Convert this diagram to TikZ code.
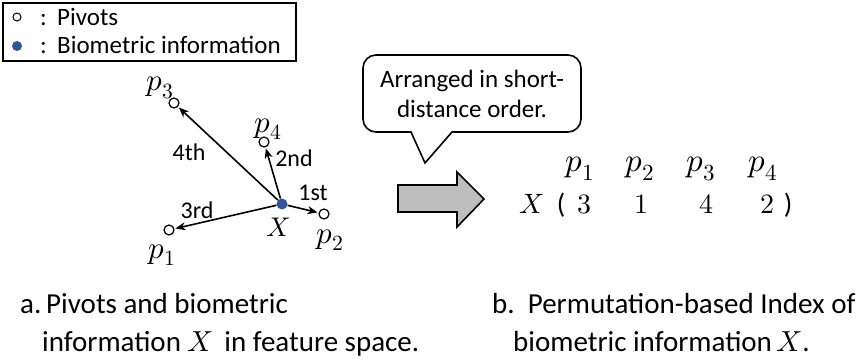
\documentclass[tikz,border=0pt]{standalone}
\usepackage{fontspec}
\usepackage{unicode-math}
\setmainfont{Carlito}
\setmathfont{Latin Modern Math}
\usetikzlibrary{arrows.meta}
\definecolor{dotblue}{RGB}{47,85,151}
\definecolor{arrowgray}{RGB}{190,190,190}
\tikzset{
  pivot/.style={circle,draw,line width=1.2pt,fill=white,minimum size=10pt,inner sep=0pt},
  bio/.style={circle,fill=dotblue,minimum size=11pt,inner sep=0pt},
  lbl/.style={font=\fontsize{24}{28}\selectfont,inner sep=0pt},
  mlbl/.style={font=\fontsize{27}{30}\selectfont,inner sep=0pt},
  plbl/.style={font=\fontsize{31}{34}\selectfont,inner sep=0pt},
  big/.style={font=\fontsize{28}{32}\selectfont,inner sep=0pt,anchor=base},
  phead/.style={font=\fontsize{33}{36}\selectfont,inner sep=0pt,anchor=base},
  txt/.style={font=\fontsize{25}{30}\selectfont,inner sep=0pt},
  captxt/.style={font=\fontsize{29}{34}\selectfont,inner sep=0pt,anchor=base west},
  vec/.style={line width=1.6pt,-{Stealth[length=10pt,width=8pt,inset=3pt]},shorten >=1pt},
}
\begin{document}
\begin{tikzpicture}[x=1pt,y=-1pt]
\useasboundingbox (0,0) rectangle (864,363);
% legend
\node[draw,line width=1.8pt,minimum width=293pt,minimum height=58pt,anchor=north west,inner sep=0pt] (legend) at (2,2) {};
\node[pivot,minimum size=8pt,line width=1pt] (lp) at (17,17) {};
\node[bio,minimum size=10pt] (lb) at (17,46) {};
\node[txt,anchor=base west] (lc1) at (40,26) {:};
\node[txt,anchor=base west] (lc2) at (40,54) {:};
\node[txt,anchor=base west] (lt1) at (57,26) {Pivots};
\node[txt,anchor=base west] (lt2) at (57,54) {Biometric information};
% feature space
\node[bio] (X) at (282,204) {};
\node[pivot] (p1) at (169,230) {};
\node[pivot] (p2) at (324,214) {};
\node[pivot] (p3) at (174,103) {};
\node[pivot] (p4) at (264,142) {};
\draw[vec] (X) -- (p1);
\draw[vec] (X) -- (p2);
\draw[vec] (X) -- (p3);
\draw[vec] (X) -- (p4);
\node[plbl] (lp1) at (162,255) {$p_1$};
\node[plbl] (lp2) at (330,240) {$p_2$};
\node[plbl] (lp3) at (160,88) {$p_3$};
\node[plbl] (lp4) at (268,129) {$p_4$};
\node[mlbl] (lX) at (278,227) {$X$};
\node[lbl] (o4) at (189,152) {4th};
\node[lbl] (o2) at (294,158) {2nd};
\node[lbl] (o1) at (313,193) {1st};
\node[lbl] (o3) at (197,210) {3rd};
% callout
\draw[line width=1.6pt,fill=white] (411,132) [rounded corners=13pt] -- (363,132) -- (363,55) -- (581,55) -- (581,132) [sharp corners] -- (452,132) -- (425,163) -- cycle;
\node[txt,anchor=base] (c1) at (472,88) {Arranged in short-};
\node[txt,anchor=base] (c2) at (472,118) {distance order.};
% big arrow
\draw[line width=1.6pt,fill=arrowgray] (398,185) -- (457,185) -- (457,172) -- (484,199) -- (457,227) -- (457,212) -- (398,212) -- cycle;
% permutation index
\node[phead] (h1) at (580,172) {$p_1$};
\node[phead] (h2) at (640,172) {$p_2$};
\node[phead] (h3) at (701,172) {$p_3$};
\node[phead] (h4) at (763,172) {$p_4$};
\node[big] (rX) at (532,214) {$X$};
\node[big] (lpar) at (561,214) {(};
\node[big] (v1) at (584,214) {$3$};
\node[big] (v2) at (641,214) {$1$};
\node[big] (v3) at (706,214) {$4$};
\node[big] (v4) at (767,214) {$2$};
\node[big] (rpar) at (788,214) {)};
% captions
\node[captxt] (ca1) at (20,313) {a.\,Pivots and biometric};
\node[captxt] (ca2) at (42,351) {information $X$\, in feature space.};
\node[captxt] (cb1) at (492,313) {b.\ \ Permutation-based Index of};
\node[captxt] (cb2) at (513,351) {biometric information\,$X$.};
\end{tikzpicture}
\end{document}
